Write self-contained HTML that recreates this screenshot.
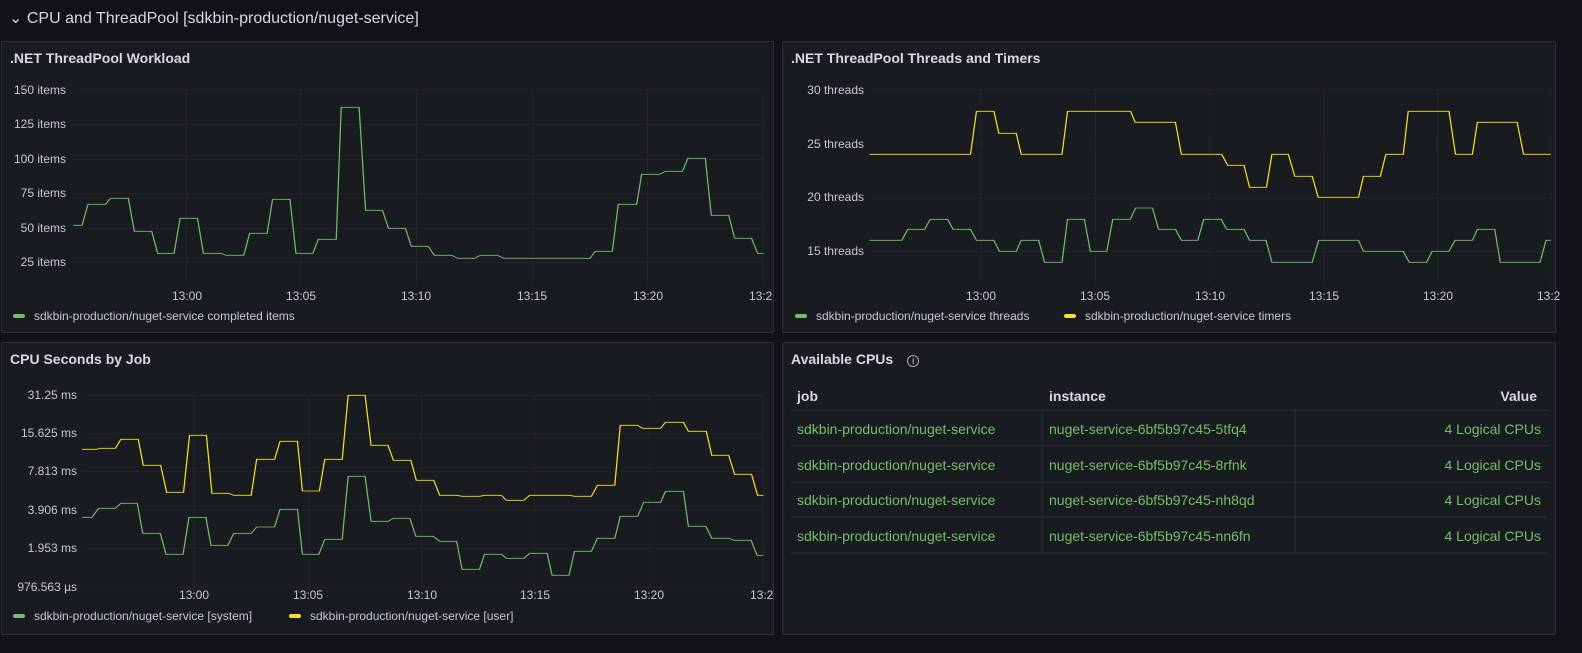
<!DOCTYPE html>
<html><head><meta charset="utf-8"><style>
body{margin:0;width:1582px;height:653px;background:#111217;font-family:"Liberation Sans",sans-serif;color:#ccccdc;overflow:hidden;position:relative}
.p{position:absolute;background:#181b1f;border:1px solid #2c2f35;border-radius:2px;box-sizing:border-box}
.t{position:absolute;left:8px;top:8px;font-size:14px;font-weight:bold;color:#d8d9e0}
svg{position:absolute;left:0;top:0}
text{font-family:"Liberation Sans",sans-serif;font-size:12px;fill:#c7c8d0}
.g line{stroke:#2b2e33;stroke-width:1}
.tb{position:absolute;font-size:14px}
</style></head><body>
<div style="position:absolute;left:9px;top:8px;font-size:16px;color:#d8d9e0">⌄ CPU and ThreadPool [sdkbin-production/nuget-service]</div>
<div class="p" style="left:1px;top:41px;width:773px;height:292px"><div class="t">.NET ThreadPool Workload</div></div>
<div class="p" style="left:782px;top:41px;width:774px;height:292px"><div class="t">.NET ThreadPool Threads and Timers</div></div>
<div class="p" style="left:1px;top:342px;width:773px;height:293px"><div class="t">CPU Seconds by Job</div></div>
<div class="p" style="left:782px;top:342px;width:774px;height:293px"><div class="t">Available CPUs <span style="font-weight:normal;font-size:12px;border:1px solid #aaa;border-radius:50%;display:inline-block;width:10px;height:10px;line-height:10px;text-align:center;margin-left:10px;font-size:9px">i</span></div></div>
<svg width="1582" height="653">
<g transform="translate(0,70) scale(0.4974,0.3333)">
<g class="g" style="stroke-width:2.5"><line x1="147" x2="1535" y1="60" y2="60"/><line x1="147" x2="1535" y1="163" y2="163"/><line x1="147" x2="1535" y1="268" y2="268"/><line x1="147" x2="1535" y1="370" y2="370"/><line x1="147" x2="1535" y1="475" y2="475"/><line x1="147" x2="1535" y1="577" y2="577"/>
<line x1="375" x2="375" y1="60" y2="640"/><line x1="605" x2="605" y1="60" y2="640"/><line x1="837" x2="837" y1="60" y2="640"/><line x1="1070" x2="1070" y1="60" y2="640"/><line x1="1302" x2="1302" y1="60" y2="640"/><line x1="1535" x2="1535" y1="60" y2="640"/></g>
<polyline fill="none" stroke="#73bf69" stroke-width="2.5" points="147,466 165,466 177,403 212,403 222,385 258,385 270,484 305,484 317,550 350,550 362,445 397,445 409,550 444,550 455,556 490,556 502,490 537,490 548,388 583,388 595,550 629,550 640,508 676,508 686,112 722,112 735,421 769,421 781,475 815,475 827,529 861,529 873,556 908,556 920,565 954,565 966,556 1000,556 1013,565 1186,565 1197,544 1231,544 1243,403 1280,403 1290,313 1326,313 1338,304 1372,304 1383,265 1418,265 1430,436 1465,436 1477,505 1511,505 1523,550 1535,550"/></g>
<g text-anchor="end"><text x="66" y="94">150 items</text><text x="66" y="128">125 items</text><text x="66" y="163">100 items</text><text x="66" y="197">75 items</text><text x="66" y="232">50 items</text><text x="66" y="266">25 items</text></g>
<g text-anchor="middle"><text x="187" y="300">13:00</text><text x="301" y="300">13:05</text><text x="416" y="300">13:10</text><text x="532" y="300">13:15</text><text x="648" y="300">13:20</text></g><text x="749" y="300">13:2</text>
<rect x="13" y="314" width="12" height="4" rx="2" fill="#73bf69"/><text x="34" y="320">sdkbin-production/nuget-service completed items</text>

<g transform="translate(780,70) scale(0.4974,0.3333)">
<g class="g" style="stroke-width:2.5"><line x1="180" x2="1550" y1="60" y2="60"/><line x1="180" x2="1550" y1="222" y2="222"/><line x1="180" x2="1550" y1="382" y2="382"/><line x1="180" x2="1550" y1="544" y2="544"/>
<line x1="404" x2="404" y1="60" y2="640"/><line x1="634" x2="634" y1="60" y2="640"/><line x1="864" x2="864" y1="60" y2="640"/><line x1="1094" x2="1094" y1="60" y2="640"/><line x1="1322" x2="1322" y1="60" y2="640"/><line x1="1550" x2="1550" y1="60" y2="640"/></g>
<polyline fill="none" stroke="#fade2a" stroke-width="2.5" points="180,253 383,253 395,124 430,124 440,190 475,190 485,253 567,253 578,124 705,124 714,157 795,157 807,253 888,253 900,286 933,286 944,352 978,352 989,253 1022,253 1035,319 1070,319 1082,382 1163,382 1173,319 1207,319 1218,253 1253,253 1263,124 1345,124 1358,253 1392,253 1402,157 1482,157 1495,253 1550,253"/>
<polyline fill="none" stroke="#73bf69" stroke-width="2.5" points="180,511 245,511 257,478 291,478 302,448 337,448 348,478 383,478 395,511 430,511 441,544 475,544 485,511 520,511 532,577 567,577 578,448 612,448 624,544 657,544 669,448 704,448 715,414 749,414 761,478 795,478 807,511 840,511 852,448 887,448 898,478 933,478 944,511 977,511 989,577 1070,577 1083,511 1163,511 1173,544 1253,544 1265,577 1300,577 1311,544 1345,544 1357,511 1392,511 1402,478 1437,478 1448,577 1528,577 1540,511 1550,511"/>
</g>
<g text-anchor="end"><text x="864" y="94">30 threads</text><text x="864" y="148">25 threads</text><text x="864" y="201">20 threads</text><text x="864" y="255">15 threads</text></g>
<g text-anchor="middle"><text x="981" y="300">13:00</text><text x="1095" y="300">13:05</text><text x="1210" y="300">13:10</text><text x="1324" y="300">13:15</text><text x="1438" y="300">13:20</text></g><text x="1537" y="300">13:2</text>
<rect x="795" y="314" width="12" height="4" rx="2" fill="#73bf69"/><text x="816" y="320">sdkbin-production/nuget-service threads</text>
<rect x="1064" y="314" width="12" height="4" rx="2" fill="#fade2a"/><text x="1085" y="320">sdkbin-production/nuget-service timers</text>

<g transform="translate(0,380) scale(0.4974,0.3333)">
<g class="g" style="stroke-width:2.5"><line x1="165" x2="1535" y1="46" y2="46"/><line x1="165" x2="1535" y1="160" y2="160"/><line x1="165" x2="1535" y1="274" y2="274"/><line x1="165" x2="1535" y1="391" y2="391"/><line x1="165" x2="1535" y1="505" y2="505"/><line x1="165" x2="1535" y1="621" y2="621"/>
<line x1="390" x2="390" y1="46" y2="640"/><line x1="620" x2="620" y1="46" y2="640"/><line x1="848" x2="848" y1="46" y2="640"/><line x1="1075" x2="1075" y1="46" y2="640"/><line x1="1305" x2="1305" y1="46" y2="640"/><line x1="1535" x2="1535" y1="46" y2="640"/></g>
<polyline fill="none" stroke="#fade2a" stroke-width="2.5" points="165,208 195,208 200,205 232,205 243,178 278,178 288,256 323,256 335,337 369,337 381,166 415,166 426,340 460,340 470,346 505,346 516,238 552,238 563,184 598,184 608,333 642,333 653,238 688,238 700,46 734,46 746,196 780,196 791,241 826,241 837,301 872,301 884,346 918,346 929,349 964,349 975,346 1008,346 1018,361 1053,361 1065,346 1145,346 1155,349 1189,349 1201,316 1236,316 1247,136 1282,136 1292,145 1328,145 1338,127 1374,127 1384,154 1420,154 1431,226 1465,226 1477,283 1511,283 1523,346 1535,346"/>
<polyline fill="none" stroke="#73bf69" stroke-width="2.5" points="165,412 185,412 198,385 232,385 243,370 276,370 287,460 322,460 334,523 368,523 380,412 414,412 424,496 458,496 470,460 505,460 516,441 552,441 563,388 598,388 608,523 641,523 653,478 688,478 700,289 734,289 746,424 780,424 791,415 824,415 836,469 871,469 884,484 918,484 929,568 964,568 974,523 1008,523 1018,535 1053,535 1065,520 1100,520 1110,586 1144,586 1155,514 1189,514 1201,475 1236,475 1247,409 1282,409 1294,367 1328,367 1338,334 1374,334 1384,439 1419,439 1431,475 1465,475 1476,481 1510,481 1522,526 1535,526"/>
</g>
<g text-anchor="end"><text x="77" y="399" fill="#73bf69">31.25 ms</text><text x="77" y="437" fill="#73bf69">15.625 ms</text><text x="77" y="475" fill="#73bf69">7.813 ms</text><text x="77" y="514" fill="#73bf69">3.906 ms</text><text x="77" y="552" fill="#73bf69">1.953 ms</text><text x="77" y="591" fill="#73bf69">976.563 µs</text></g>
<g text-anchor="middle"><text x="194" y="599">13:00</text><text x="308" y="599">13:05</text><text x="422" y="599">13:10</text><text x="535" y="599">13:15</text><text x="649" y="599">13:20</text></g><text x="750" y="599">13:2</text>
<rect x="13" y="614" width="12" height="4" rx="2" fill="#73bf69"/><text x="34" y="620">sdkbin-production/nuget-service [system]</text>
<rect x="289" y="614" width="12" height="4" rx="2" fill="#fade2a"/><text x="310" y="620">sdkbin-production/nuget-service [user]</text>

<g stroke="#2c2f35"><line x1="791" x2="1547" y1="410" y2="410"/><line x1="791" x2="1547" y1="446" y2="446"/><line x1="791" x2="1547" y1="482" y2="482"/><line x1="791" x2="1547" y1="517" y2="517"/><line x1="791" x2="1547" y1="553" y2="553"/>
<line x1="1042" x2="1042" y1="410" y2="553"/><line x1="1295" x2="1295" y1="410" y2="553"/></g>
</svg>
<div class="tb" style="left:797px;top:388px;font-weight:bold;color:#d8d9e0">job</div>
<div class="tb" style="left:1049px;top:388px;font-weight:bold;color:#d8d9e0">instance</div>
<div class="tb" style="right:45px;top:388px;font-weight:bold;color:#d8d9e0">Value</div>
<div style="color:#73bf69">
<div class="tb" style="left:797px;top:421px">sdkbin-production/nuget-service</div><div class="tb" style="left:1049px;top:421px">nuget-service-6bf5b97c45-5tfq4</div><div class="tb" style="right:41px;top:421px">4 Logical CPUs</div>
<div class="tb" style="left:797px;top:457px">sdkbin-production/nuget-service</div><div class="tb" style="left:1049px;top:457px">nuget-service-6bf5b97c45-8rfnk</div><div class="tb" style="right:41px;top:457px">4 Logical CPUs</div>
<div class="tb" style="left:797px;top:492px">sdkbin-production/nuget-service</div><div class="tb" style="left:1049px;top:492px">nuget-service-6bf5b97c45-nh8qd</div><div class="tb" style="right:41px;top:492px">4 Logical CPUs</div>
<div class="tb" style="left:797px;top:528px">sdkbin-production/nuget-service</div><div class="tb" style="left:1049px;top:528px">nuget-service-6bf5b97c45-nn6fn</div><div class="tb" style="right:41px;top:528px">4 Logical CPUs</div>
</div>
</body></html>
